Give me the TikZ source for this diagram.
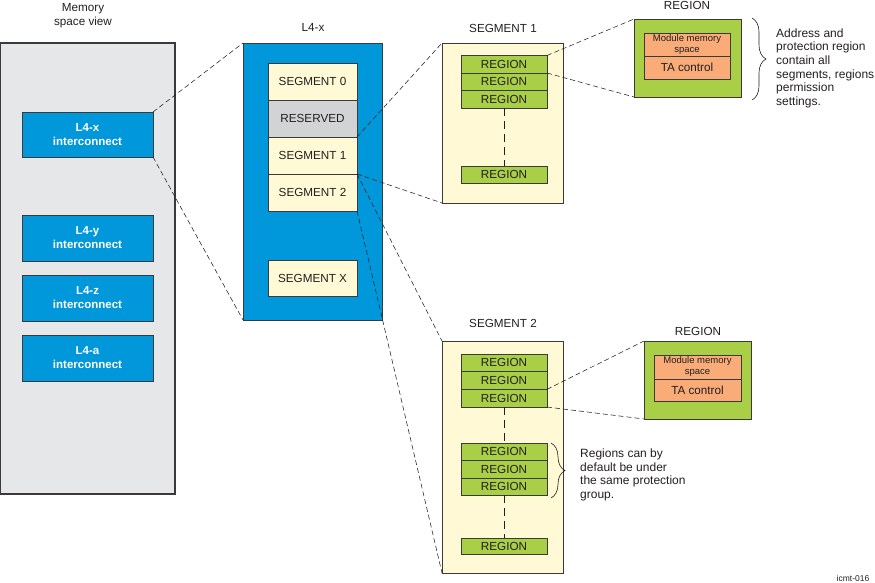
\documentclass[tikz,border=0pt]{standalone}
\usepackage{fontspec}
\setmainfont{Liberation Sans}
\usetikzlibrary{decorations.pathreplacing}
\definecolor{bordc}{RGB}{58,58,58}
\definecolor{txt}{RGB}{35,31,32}
\definecolor{blueL}{RGB}{0,152,218}
\definecolor{greyL}{RGB}{230,231,232}
\definecolor{greyR}{RGB}{209,211,212}
\definecolor{yel}{RGB}{255,249,214}
\definecolor{grn}{RGB}{169,207,70}
\definecolor{orng}{RGB}{249,171,120}
\tikzset{
  box/.style={draw=bordc, line width=0.8pt, inner sep=0pt, outer sep=0pt, text=txt, font=\fontsize{11.7}{13}\selectfont},
  ic/.style={box, fill=blueL, text=white, font=\bfseries\fontsize{11.5}{14}\selectfont, align=center, minimum width=131pt, minimum height=45pt},
  seg/.style={box, fill=yel, minimum width=89pt, minimum height=37pt},
  reg/.style={box, fill=grn, minimum width=86pt},
  mm/.style={box, fill=orng},
  title/.style={inner sep=0pt, text=txt, font=\fontsize{11.7}{14}\selectfont, align=center},
  note/.style={inner sep=0pt, text=txt, font=\fontsize{12}{13.6}\selectfont, align=left, anchor=north west},
  conn/.style={draw=txt, line width=0.55pt, dash pattern=on 5pt off 3pt},
  vconn/.style={draw=txt, line width=0.7pt, dash pattern=on 8pt off 5pt},
  brc/.style={draw=txt, line width=0.6pt, decorate, decoration={brace, amplitude=14pt}}
}
\begin{document}
\begin{tikzpicture}[x=1pt,y=-1pt]
\useasboundingbox (0,0) rectangle (875,583);

% memory space view
\node[title] (tmem) at (83,16) {Memory\\space view};
\node[box, fill=greyL, line width=1.2pt, minimum width=174.5pt, minimum height=451pt] (mem) at (87.75,268.5) {};
\node[ic] (l4x) at (87.5,134.5) {L4-x\\interconnect};
\node[ic, minimum height=46pt] (l4y) at (87.5,238) {L4-y\\interconnect};
\node[ic, minimum height=46pt] (l4z) at (87.5,298) {L4-z\\interconnect};
\node[ic, minimum height=46pt] (l4a) at (87.5,358) {L4-a\\interconnect};

% L4-x
\node[title] (tl4x) at (313,27) {L4-x};
\node[box, fill=blueL, minimum width=139pt, minimum height=277pt] (l4xbox) at (312.5,181.5) {};
\node[seg] (s0) at (312.5,81.5) {SEGMENT 0};
\node[seg, fill=greyR] (res) at (312.5,118.5) {RESERVED};
\node[seg] (s1) at (312.5,155.5) {SEGMENT 1};
\node[seg] (s2) at (312.5,192.5) {SEGMENT 2};
\node[seg, minimum height=36pt] (sx) at (312.5,278) {SEGMENT X};

% SEGMENT 1
\node[title] (ts1) at (503,28) {SEGMENT 1};
\node[box, fill=yel, minimum width=121pt, minimum height=160pt] (s1box) at (502.5,123) {};
\node[reg, minimum height=17.5pt] (r1a) at (504,64.25) {REGION};
\node[reg, minimum height=17.5pt] (r1b) at (504,81.75) {REGION};
\node[reg, minimum height=17.5pt] (r1c) at (504,99.25) {REGION};
\node[reg, minimum height=17pt] (r1d) at (504,174.5) {REGION};

% REGION 1
\node[title] (treg1) at (687,5) {REGION};
\node[box, fill=grn, minimum width=107pt, minimum height=78pt] (reg1) at (687.5,58) {};
\node[mm, minimum width=86pt, minimum height=23pt, font=\fontsize{9.5}{11}\selectfont, align=center] (mm1) at (687,44.5) {Module memory\\space};
\node[mm, minimum width=86pt, minimum height=23pt] (ta1) at (687,67.5) {TA control};

% SEGMENT 2
\node[title] (ts2) at (503,323) {SEGMENT 2};
\node[box, fill=yel, minimum width=121pt, minimum height=232pt] (s2box) at (502.5,457) {};
\node[reg, minimum height=17.67pt] (r2a) at (504,362.8) {REGION};
\node[reg, minimum height=17.67pt] (r2b) at (504,380.5) {REGION};
\node[reg, minimum height=17.67pt] (r2c) at (504,398.2) {REGION};
\node[reg, minimum height=17.33pt] (r2d) at (504,451.7) {REGION};
\node[reg, minimum height=17.33pt] (r2e) at (504,469.3) {REGION};
\node[reg, minimum height=17.33pt] (r2f) at (504,486.7) {REGION};
\node[reg, minimum height=16pt] (r2g) at (504,546) {REGION};

% REGION 2
\node[title] (treg2) at (698,331) {REGION};
\node[box, fill=grn, minimum width=107pt, minimum height=78pt] (reg2) at (697.5,380) {};
\node[mm, minimum width=87pt, minimum height=24pt, font=\fontsize{9.5}{11}\selectfont, align=center] (mm2) at (697.5,367) {Module memory\\space};
\node[mm, minimum width=87pt, minimum height=22pt] (ta2) at (697.5,390) {TA control};

% connectors
\draw[conn] (l4x.north east) -- (l4xbox.north west);
\draw[conn] (l4x.south east) -- (l4xbox.south west);
\draw[conn] (s1.north east) -- (s1box.north west);
\draw[conn] (s1.south east) -- (s1box.south west);
\draw[conn] (s2.north east) -- (s2box.north west);
\draw[conn] (s2.south east) -- (s2box.south west);
\draw[conn] (r1a.north east) -- (reg1.north west);
\draw[conn] (r1a.south east) -- (reg1.south west);
\draw[conn] (r2c.north east) -- (reg2.north west);
\draw[conn] (r2c.south east) -- (reg2.south west);
\draw[vconn] (r1c.south) -- (r1d.north);
\draw[vconn] (r2c.south) -- (r2d.north);
\draw[vconn] (r2f.south) -- (r2g.north);

% braces and notes
\coordinate (b1t) at (752,18);
\coordinate (b1b) at (752,100);
\draw[brc] (b1t) -- (b1b);
\node[note] (n1) at (776,28.5) {Address and\\protection region\\contain all\\segments, regions\\permission\\settings.};
\coordinate (b2t) at (551,443);
\coordinate (b2b) at (551,498);
\draw[brc] (b2t) -- (b2b);
\node[note] (n2) at (580,448.5) {Regions can by\\default be under\\the same protection\\group.};

\node[inner sep=0pt, text=txt, font=\fontsize{8.5}{9}\selectfont] (code) at (853,578) {icmt-016};
\end{tikzpicture}
\end{document}
